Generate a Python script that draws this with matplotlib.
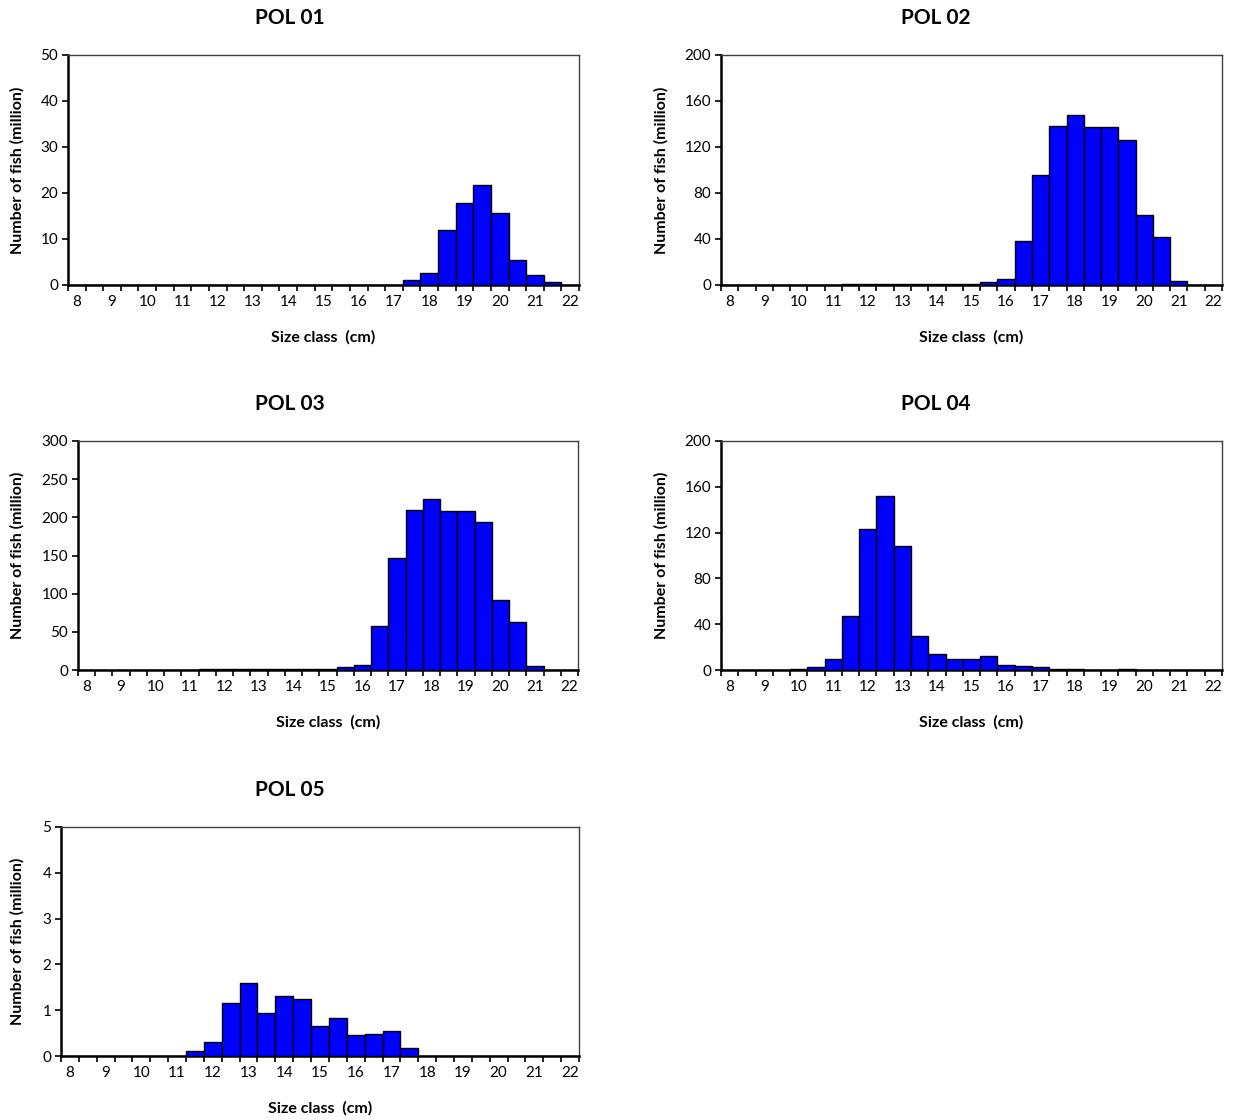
import matplotlib.pyplot as plt
import numpy as np

plt.rcParams['font.family'] = ['Lato', 'DejaVu Sans']

# size classes (cm), half-centimetre steps
size_class = np.arange(8, 22.5, 0.5)

pol01 = [0]*19 + [1.0, 2.7, 12.0, 17.8, 21.7, 15.7, 5.4, 2.1, 0.6, 0]
pol02 = [0]*7 + [0.9]*8 + [2.6, 4.9, 38.5, 96.0, 138.0, 148.0, 137.0, 137.0,
                           126.0, 61.0, 42.0, 3.8, 0, 0]
pol03 = [0]*7 + [1.5]*8 + [3.5, 7.0, 57.6, 146.7, 209.6, 224.5, 208.0, 208.0,
                           193.4, 92.1, 62.9, 4.8, 0, 0]
pol04 = [0]*4 + [1.2, 2.3, 9.3, 46.9, 122.9, 151.7, 108.3, 29.7, 14.3, 9.3,
                 9.3, 11.9, 4.7, 3.5, 2.3, 1.2, 1.2, 0, 0, 1.2, 0, 0, 0, 0, 0]
pol05 = [0]*7 + [0.12, 0.31, 1.15, 1.60, 0.94, 1.30, 1.24, 0.66, 0.82, 0.45,
                 0.48, 0.55, 0.18] + [0]*9

titles = ['POL 01', 'POL 02', 'POL 03', 'POL 04', 'POL 05']
series = [pol01, pol02, pol03, pol04, pol05]
y_max = [50, 200, 300, 200, 5]
y_step = [10, 40, 50, 40, 1]

W, H = 1234, 1120
fig = plt.figure(figsize=(W / 100, H / 100), dpi=100)

# plot boxes in pixels: left, right, top, bottom
boxes = [(68, 579, 55, 285), (721, 1222, 55, 285),
         (78, 578, 441, 670), (721, 1222, 441, 670),
         (61, 579, 827, 1056)]
title_x = [290, 936, 290, 936, 290]
ylab_x = [17, 661, 17, 661, 17]

for i, (vals, (l, r, t, b)) in enumerate(zip(series, boxes)):
    ax = fig.add_axes([l / W, 1 - b / H, (r - l) / W, (b - t) / H])
    ax.bar(size_class, vals, width=0.5, color='#0000FF', edgecolor='black',
           linewidth=1.0, zorder=3)
    ax.set_xlim(7.75, 22.25)
    ax.set_ylim(0, y_max[i])
    ax.set_yticks(np.arange(0, y_max[i] + y_step[i] / 2, y_step[i]))
    ax.set_xticks(np.arange(8, 23, 1))
    ax.set_xticks(np.arange(7.75, 22.3, 0.5), minor=True)
    ax.tick_params(axis='x', which='major', length=0, pad=7, labelsize=11)
    ax.tick_params(axis='x', which='minor', length=4, width=1.2,
                   direction='out')
    ax.tick_params(axis='y', length=4, width=1.2, direction='out', pad=3,
                   labelsize=11)
    for side in ['left', 'bottom']:
        ax.spines[side].set_linewidth(1.8)
        ax.spines[side].set_color('black')
    for side in ['top', 'right']:
        ax.spines[side].set_linewidth(1.0)
        ax.spines[side].set_color('#404040')

    fig.text(title_x[i] / W, 1 - (t - 37) / H, titles[i], ha='center',
             va='center', fontsize=15, fontweight='bold')
    fig.text(ylab_x[i] / W, 1 - (t + b) / 2 / H, 'Number of fish (million)',
             rotation=90, ha='center', va='center', fontsize=11.5,
             fontweight='bold')
    fig.text((l + r) / 2 / W, 1 - (b + 52) / H, 'Size class  (cm)',
             ha='center', va='center', fontsize=11.5, fontweight='bold')

fig.savefig('out.png', dpi=100, facecolor='white')
